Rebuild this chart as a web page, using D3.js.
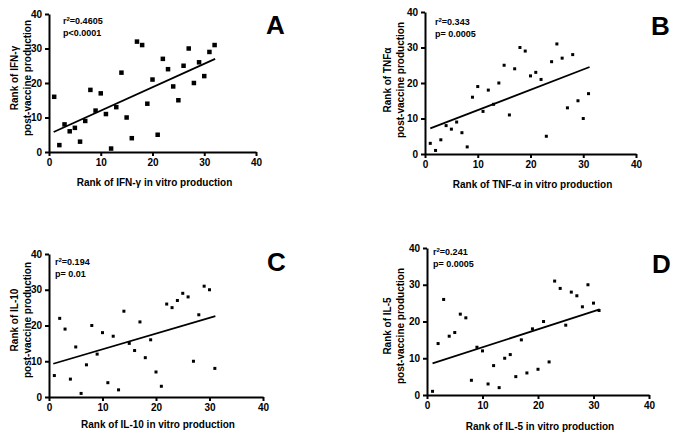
<!DOCTYPE html>
<html>
<head>
<meta charset="utf-8">
<script src="https://cdn.jsdelivr.net/npm/d3@7"></script>
<style>
    body { margin: 0; background: #fff; }
    svg { display: block; font-family: "Liberation Sans", Arial, Helvetica, sans-serif; font-weight: bold; }
</style>
</head>
<body>
<div class="chart"></div>
<script>
// rank data
const ifnX = [1, 2, 3, 4, 5, 6, 7, 8, 9, 10, 11, 12, 13, 14, 15, 16, 17, 18, 19, 20, 21, 22, 23, 24, 25, 26, 27, 28, 29, 30, 31, 32];
const ifnY = [16, 2, 8, 6, 7, 3, 9, 18, 12, 17, 11, 1, 13, 23, 10, 4, 32, 31, 14, 21, 5, 27, 24, 19, 15, 25, 30, 20, 26, 22, 29, 31];
const ifnFit = [0.9, 5.8, 32.1, 27];

const tnfX = [1, 2, 3, 4, 5, 6, 7, 8, 9, 10, 11, 12, 13, 14, 15, 16, 17, 18, 19, 20, 21, 22, 23, 24, 25, 26, 27, 28, 29, 30, 31];
const tnfY = [3, 1, 4, 8, 7, 9, 6, 2, 16, 19, 12, 18, 14, 20, 25, 11, 24, 30, 29, 22, 23, 21, 5, 26, 31, 27, 13, 28, 15, 10, 17];
const tnfFit = [1, 7.2, 31.2, 24.5];

const il10X = [1, 2, 3, 4, 5, 6, 7, 8, 9, 10, 11, 12, 13, 14, 15, 16, 17, 18, 19, 20, 21, 22, 23, 24, 25, 26, 27, 28, 29, 30, 31];
const il10Y = [6, 22, 19, 5, 14, 1, 9, 20, 12, 18, 4, 17, 2, 24, 15, 13, 21, 11, 16, 7, 3, 26, 25, 27, 29, 28, 10, 23, 31, 30, 8];
const il10Fit = [0.8, 9.3, 31.1, 22.6];

const il5X = [1, 2, 3, 4, 5, 6, 7, 8, 9, 10, 11, 12, 13, 14, 15, 16, 17, 18, 19, 20, 21, 22, 23, 24, 25, 26, 27, 28, 29, 30, 31];
const il5Y = [1, 14, 26, 16, 17, 22, 21, 4, 13, 12, 3, 8, 2, 10, 11, 5, 15, 6, 18, 7, 20, 9, 31, 29, 19, 28, 27, 24, 30, 25, 23];
const il5Fit = [1, 8.6, 31.1, 23.3];

const axisTicks = [0, 10, 20, 30, 40];

const panels = [
    { letter: 'A', xs: ifnX, ys: ifnY, fit: ifnFit, stat1: '=0.4605', stat2: 'p<0.0001',
      yLab1: 'Rank of IFN-\u03b3', yLab2: 'post-vaccine production', xLab: 'Rank of IFN-\u03b3 in vitro production',
      box: { l: 49, r: 256, t: 14, b: 152 }, mark: 4.5, yLabX: 18, yLabY: 78, xLabY: 186, statX: 63, statY: 24,
      letterX: 266, letterY: 34 },
    { letter: 'B', xs: tnfX, ys: tnfY, fit: tnfFit, stat1: '=0.343', stat2: 'p= 0.0005',
      yLab1: 'Rank of TNF\u03b1', yLab2: 'post-vaccine production', xLab: 'Rank of TNF-\u03b1 in vitro production',
      box: { l: 425, r: 636, t: 12, b: 154 }, mark: 3, yLabX: 391, yLabY: 80, xLabY: 188, statX: 435, statY: 25,
      letterX: 651, letterY: 35 },
    { letter: 'C', xs: il10X, ys: il10Y, fit: il10Fit, stat1: '=0.194', stat2: 'p= 0.01',
      yLab1: 'Rank of IL-10', yLab2: 'post-vaccine production', xLab: 'Rank of IL-10 in vitro production',
      box: { l: 49, r: 263, t: 254, b: 397 }, mark: 3, yLabX: 18, yLabY: 320, xLabY: 428, statX: 55, statY: 265,
      letterX: 267, letterY: 271 },
    { letter: 'D', xs: il5X, ys: il5Y, fit: il5Fit, stat1: '=0.241', stat2: 'p= 0.0005',
      yLab1: 'Rank of IL-5', yLab2: 'post-vaccine production', xLab: 'Rank of IL-5 in vitro production',
      box: { l: 427, r: 649, t: 248, b: 395 }, mark: 3, yLabX: 391, yLabY: 326, xLabY: 430, statX: 433, statY: 255,
      letterX: 652, letterY: 273 }
];

const svg = d3.select('.chart')
    .append('svg')
    .attr('width', 684)
    .attr('height', 438);

function drawPanel(p) {
    const g = svg.append('g');
    const x = d3.scaleLinear().domain([0, 40]).range([p.box.l, p.box.r]);
    const y = d3.scaleLinear().domain([0, 40]).range([p.box.b, p.box.t]);

    const xAxis = g.append('g')
        .attr('transform', `translate(0,${p.box.b})`)
        .call(d3.axisBottom(x).tickValues(axisTicks).tickSize(4).tickPadding(3).tickSizeOuter(0));
    const yAxis = g.append('g')
        .attr('transform', `translate(${p.box.l},0)`)
        .call(d3.axisLeft(y).tickValues(axisTicks).tickSize(4).tickPadding(3).tickSizeOuter(0));

    [xAxis, yAxis].forEach(a => {
        a.select('.domain').attr('stroke', '#000').attr('stroke-width', 2);
        a.selectAll('.tick line').attr('stroke', '#000').attr('stroke-width', 2);
        a.selectAll('.tick text')
            .attr('fill', '#000')
            .style('font-size', '10px')
            .style('font-weight', 'bold')
            .style('font-family', '"Liberation Sans", Arial, sans-serif');
    });

    // regression line
    g.append('line')
        .attr('x1', x(p.fit[0]))
        .attr('y1', y(p.fit[1]))
        .attr('x2', x(p.fit[2]))
        .attr('y2', y(p.fit[3]))
        .attr('stroke', '#000')
        .attr('stroke-width', 1.8);

    const pts = p.xs.map((v, i) => ({ x: v, y: p.ys[i] }));
    g.selectAll('.pt')
        .data(pts)
        .enter()
        .append('rect')
        .attr('class', 'pt')
        .attr('x', d => x(d.x) - p.mark / 2)
        .attr('y', d => y(d.y) - p.mark / 2)
        .attr('width', p.mark)
        .attr('height', p.mark)
        .attr('fill', '#000');

    // stats text
    const s1 = g.append('text')
        .attr('x', p.statX)
        .attr('y', p.statY)
        .style('font-size', '9px');
    s1.append('tspan').text('r');
    s1.append('tspan').text('2').attr('dy', -3).style('font-size', '6px');
    s1.append('tspan').text(p.stat1).attr('dy', 3);
    g.append('text')
        .attr('x', p.statX)
        .attr('y', p.statY + 12)
        .style('font-size', '9px')
        .text(p.stat2);

    // axis titles
    g.append('text')
        .attr('x', (p.box.l + p.box.r) / 2 + 2)
        .attr('y', p.xLabY)
        .attr('text-anchor', 'middle')
        .style('font-size', '10px')
        .text(p.xLab);
    g.append('text')
        .attr('transform', `translate(${p.yLabX},${p.yLabY}) rotate(-90)`)
        .attr('text-anchor', 'middle')
        .style('font-size', '10px')
        .text(p.yLab1);
    g.append('text')
        .attr('transform', `translate(${p.yLabX + 13},${p.yLabY}) rotate(-90)`)
        .attr('text-anchor', 'middle')
        .style('font-size', '10px')
        .text(p.yLab2);

    g.append('text')
        .attr('x', p.letterX)
        .attr('y', p.letterY)
        .style('font-size', '26px')
        .text(p.letter);
}

panels.forEach(drawPanel);
</script>
</body>
</html>
